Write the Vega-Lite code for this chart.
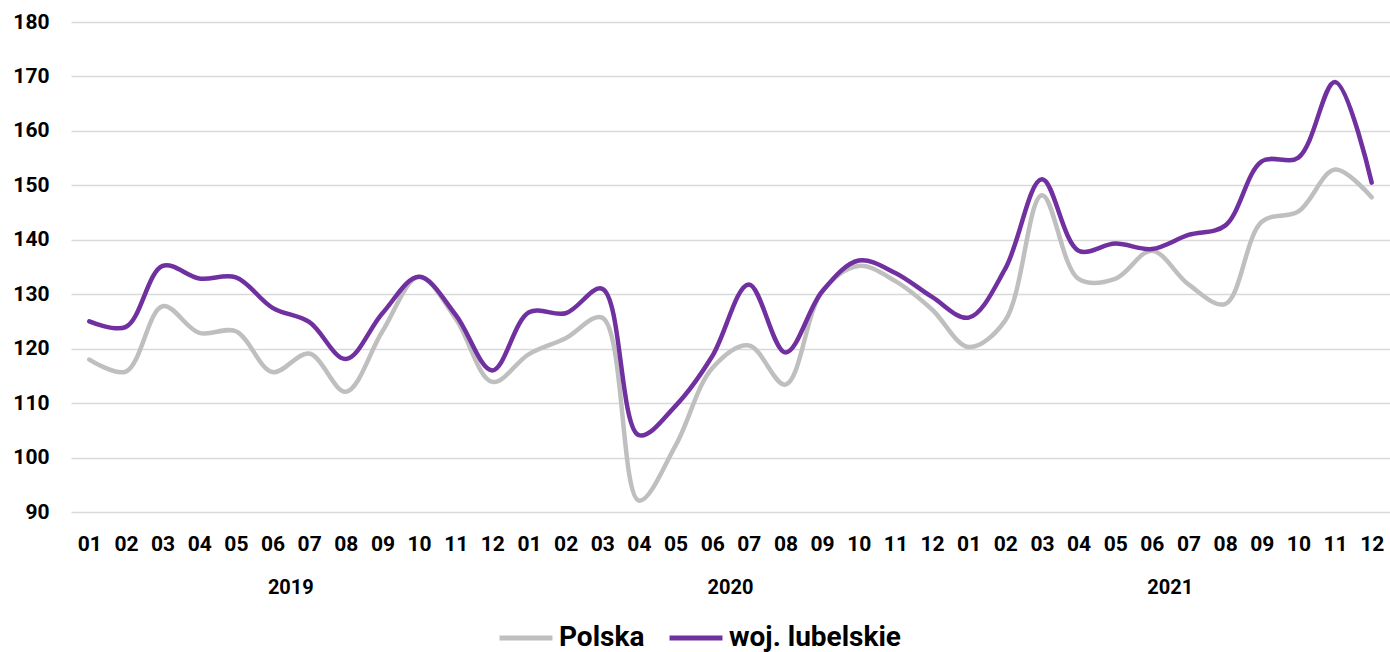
{
  "$schema": "https://vega.github.io/schema/vega-lite/v6.json",
  "width": 1319,
  "height": 490,
  "padding": {"left": 12, "top": 11, "right": 0, "bottom": 0},
  "background": "white",
  "config": {"view": {"stroke": null}, "font": "Roboto"},
  "datasets": {
    "years": [{"year": "2019"}, {"year": "2020"}, {"year": "2021"}]
  },
  "data": {"values": [
    {"m":"2019-01","s":"Polska","v":118.0},{"m":"2019-02","s":"Polska","v":115.8},{"m":"2019-03","s":"Polska","v":127.8},{"m":"2019-04","s":"Polska","v":122.9},{"m":"2019-05","s":"Polska","v":123.2},{"m":"2019-06","s":"Polska","v":115.7},{"m":"2019-07","s":"Polska","v":119.1},{"m":"2019-08","s":"Polska","v":112.1},{"m":"2019-09","s":"Polska","v":123.2},{"m":"2019-10","s":"Polska","v":133.2},{"m":"2019-11","s":"Polska","v":125.5},{"m":"2019-12","s":"Polska","v":113.9},
    {"m":"2020-01","s":"Polska","v":119.0},{"m":"2020-02","s":"Polska","v":121.9},{"m":"2020-03","s":"Polska","v":125.7},{"m":"2020-04","s":"Polska","v":92.1},{"m":"2020-05","s":"Polska","v":102.2},{"m":"2020-06","s":"Polska","v":116.4},{"m":"2020-07","s":"Polska","v":120.6},{"m":"2020-08","s":"Polska","v":113.4},{"m":"2020-09","s":"Polska","v":130.5},{"m":"2020-10","s":"Polska","v":135.2},{"m":"2020-11","s":"Polska","v":132.4},{"m":"2020-12","s":"Polska","v":127.2},
    {"m":"2021-01","s":"Polska","v":120.3},{"m":"2021-02","s":"Polska","v":125.2},{"m":"2021-03","s":"Polska","v":148.2},{"m":"2021-04","s":"Polska","v":132.8},{"m":"2021-05","s":"Polska","v":132.8},{"m":"2021-06","s":"Polska","v":138.0},{"m":"2021-07","s":"Polska","v":131.8},{"m":"2021-08","s":"Polska","v":128.2},{"m":"2021-09","s":"Polska","v":143.3},{"m":"2021-10","s":"Polska","v":145.2},{"m":"2021-11","s":"Polska","v":152.9},{"m":"2021-12","s":"Polska","v":147.8},
    {"m":"2019-01","s":"woj. lubelskie","v":125.0},{"m":"2019-02","s":"woj. lubelskie","v":124.0},{"m":"2019-03","s":"woj. lubelskie","v":135.2},{"m":"2019-04","s":"woj. lubelskie","v":132.9},{"m":"2019-05","s":"woj. lubelskie","v":133.1},{"m":"2019-06","s":"woj. lubelskie","v":127.5},{"m":"2019-07","s":"woj. lubelskie","v":124.9},{"m":"2019-08","s":"woj. lubelskie","v":118.1},{"m":"2019-09","s":"woj. lubelskie","v":126.5},{"m":"2019-10","s":"woj. lubelskie","v":133.2},{"m":"2019-11","s":"woj. lubelskie","v":126.2},{"m":"2019-12","s":"woj. lubelskie","v":116.0},
    {"m":"2020-01","s":"woj. lubelskie","v":126.7},{"m":"2020-02","s":"woj. lubelskie","v":126.5},{"m":"2020-03","s":"woj. lubelskie","v":131.0},{"m":"2020-04","s":"woj. lubelskie","v":104.1},{"m":"2020-05","s":"woj. lubelskie","v":109.5},{"m":"2020-06","s":"woj. lubelskie","v":118.6},{"m":"2020-07","s":"woj. lubelskie","v":131.8},{"m":"2020-08","s":"woj. lubelskie","v":119.3},{"m":"2020-09","s":"woj. lubelskie","v":130.5},{"m":"2020-10","s":"woj. lubelskie","v":136.2},{"m":"2020-11","s":"woj. lubelskie","v":133.9},{"m":"2020-12","s":"woj. lubelskie","v":129.5},
    {"m":"2021-01","s":"woj. lubelskie","v":125.7},{"m":"2021-02","s":"woj. lubelskie","v":134.7},{"m":"2021-03","s":"woj. lubelskie","v":151.1},{"m":"2021-04","s":"woj. lubelskie","v":138.0},{"m":"2021-05","s":"woj. lubelskie","v":139.3},{"m":"2021-06","s":"woj. lubelskie","v":138.3},{"m":"2021-07","s":"woj. lubelskie","v":140.9},{"m":"2021-08","s":"woj. lubelskie","v":142.6},{"m":"2021-09","s":"woj. lubelskie","v":154.4},{"m":"2021-10","s":"woj. lubelskie","v":155.1},{"m":"2021-11","s":"woj. lubelskie","v":169.0},{"m":"2021-12","s":"woj. lubelskie","v":150.5}
  ]},
  "layer": [
    {
      "mark": {"type": "line", "interpolate": "catmull-rom", "strokeWidth": 4.5, "strokeCap": "round", "strokeJoin": "round"},
      "encoding": {
        "x": {
          "field": "m", "type": "ordinal", "sort": "ascending",
          "scale": {"type": "point", "padding": 0.5},
          "axis": {
            "title": null, "domain": false, "ticks": false, "grid": false,
            "labelExpr": "slice(datum.value, 5)", "labelAngle": 0,
            "labelFont": "Roboto", "labelFontWeight": "bold", "labelFontSize": 21,
            "labelColor": "#000000", "labelPadding": 21
          }
        },
        "y": {
          "field": "v", "type": "quantitative",
          "scale": {"domain": [90, 180], "nice": false, "zero": false},
          "axis": {
            "title": null, "values": [90,100,110,120,130,140,150,160,170,180],
            "domain": false, "ticks": false,
            "gridColor": "#D9D9D9", "gridWidth": 1.5,
            "labelFont": "Roboto", "labelFontWeight": "bold", "labelFontSize": 21,
            "labelColor": "#000000", "labelPadding": 22
          }
        },
        "color": {
          "field": "s", "type": "nominal",
          "scale": {"domain": ["Polska", "woj. lubelskie"], "range": ["#BFBFBF", "#7030A0"]},
          "legend": {
            "title": null, "orient": "none", "direction": "horizontal",
            "legendX": 426, "legendY": 587,
            "symbolType": "stroke", "symbolStrokeWidth": 5, "symbolSize": 2800,
            "labelFont": "Roboto", "labelFontWeight": "bold", "labelFontSize": 28,
            "labelLimit": 500,
            "labelColor": "#000000", "labelOffset": 4, "columnPadding": 14
          }
        }
      }
    },
    {
      "data": {"name": "years"},
      "mark": {"type": "point", "opacity": 0},
      "encoding": {
        "x": {
          "field": "year", "type": "ordinal",
          "scale": {"type": "band"},
          "axis": {
            "orient": "bottom", "offset": 44, "title": null, "domain": false, "ticks": false, "grid": false,
            "labelAngle": 0, "labelFont": "Roboto", "labelFontWeight": "bold", "labelFontSize": 20,
            "labelColor": "#000000", "labelPadding": 21
          }
        }
      }
    }
  ],
  "resolve": {"scale": {"x": "independent"}}
}
